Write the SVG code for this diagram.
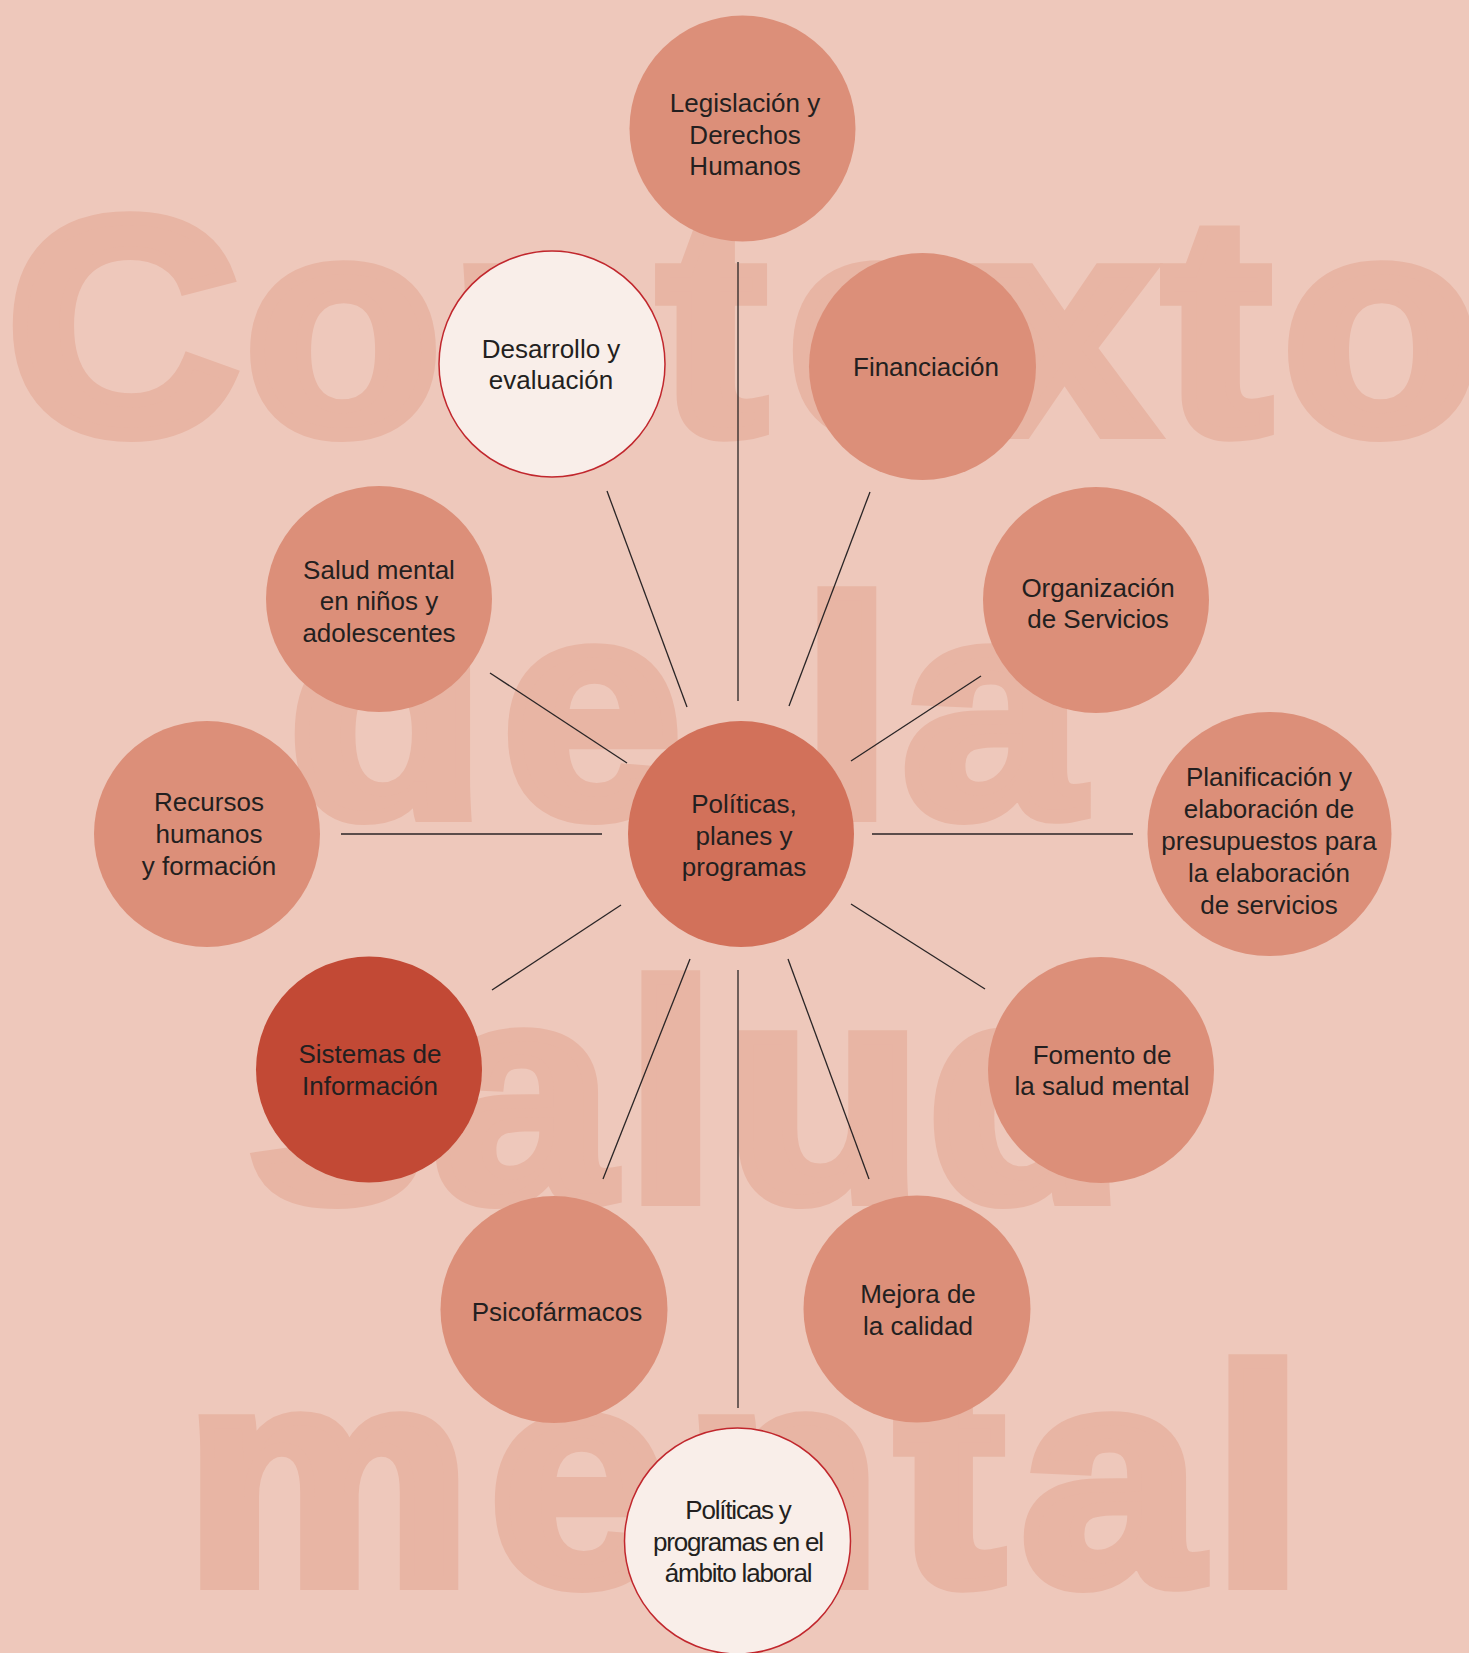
<svg xmlns="http://www.w3.org/2000/svg" width="1469" height="1653" viewBox="0 0 1469 1653">
<style>
.bgw{font-family:"Liberation Sans",Arial,sans-serif;font-weight:700;font-size:306px;fill:#E8B5A4;stroke:#E8B5A4;stroke-width:14;stroke-linejoin:miter;text-anchor:middle}
.n{fill:#DC8F79}
.c{fill:#D2715A}
.s{fill:#C24935}
.w{fill:#F9EEE9;stroke:#C1272D;stroke-width:1.5}
.t{font-family:"Liberation Sans",Arial,sans-serif;font-size:26px;fill:#231F20;text-anchor:middle}
.lab{letter-spacing:-1.2px}
#connectors line{stroke:#2A2526;stroke-width:1.3}
</style>
<rect width="1469" height="1653" fill="#EEC8BB"/>
<g id="background-words" transform="scale(1.05,1)">
<text class="bgw" x="117.1 326.7 521.9 678.1 835.2 1014.3 1159 1315.2" y="432">Contexto</text>
<text class="bgw" x="368.6 563.8 806.7 944.8" y="815">dela</text>
<text class="bgw" x="321 498.1 639 784.8 977.1" y="1199">salud</text>
<text class="bgw" x="312.4 551.4 745.7 904.8 1058.1 1198.1" y="1583">mental</text>
</g>
<g id="connectors">
<line x1="738" y1="262" x2="738" y2="701"/>
<line x1="607" y1="491" x2="687" y2="707"/>
<line x1="870" y1="492" x2="789" y2="706"/>
<line x1="490" y1="673" x2="627" y2="763"/>
<line x1="981" y1="676" x2="851" y2="761"/>
<line x1="341" y1="834" x2="602" y2="834"/>
<line x1="872" y1="834" x2="1133" y2="834"/>
<line x1="621" y1="905" x2="492" y2="990"/>
<line x1="851" y1="904" x2="985" y2="989"/>
<line x1="690" y1="959" x2="603" y2="1179"/>
<line x1="788" y1="959" x2="869" y2="1179"/>
<line x1="738" y1="970" x2="738" y2="1408"/>
</g>
<g id="node-legislacion">
<circle class="n" cx="742.5" cy="128.5" r="113"/>
<text class="t"><tspan x="745" y="112">Legislación y</tspan><tspan x="745" y="143.5">Derechos</tspan><tspan x="745" y="175">Humanos</tspan></text>
</g>
<g id="node-desarrollo">
<circle class="w" cx="552" cy="364" r="113"/>
<text class="t"><tspan x="551" y="357.5">Desarrollo y</tspan><tspan x="551" y="389">evaluación</tspan></text>
</g>
<g id="node-financiacion">
<circle class="n" cx="922.5" cy="366.5" r="113.5"/>
<text class="t" x="926" y="376">Financiación</text>
</g>
<g id="node-salud-ninos">
<circle class="n" cx="379" cy="599" r="113"/>
<text class="t"><tspan x="379" y="578.5">Salud mental</tspan><tspan x="379" y="610">en niños y</tspan><tspan x="379" y="641.5">adolescentes</tspan></text>
</g>
<g id="node-organizacion">
<circle class="n" cx="1096" cy="600" r="113"/>
<text class="t"><tspan x="1098" y="597">Organización</tspan><tspan x="1098" y="628">de Servicios</tspan></text>
</g>
<g id="node-recursos">
<circle class="n" cx="207" cy="834" r="113"/>
<text class="t"><tspan x="209" y="811">Recursos</tspan><tspan x="209" y="843">humanos</tspan><tspan x="209" y="875">y formación</tspan></text>
</g>
<g id="node-centro">
<circle class="c" cx="741" cy="834" r="113"/>
<text class="t"><tspan x="744" y="813">Políticas,</tspan><tspan x="744" y="844.5">planes y</tspan><tspan x="744" y="876">programas</tspan></text>
</g>
<g id="node-planificacion">
<circle class="n" cx="1269.5" cy="834" r="122"/>
<text class="t"><tspan x="1269" y="786">Planificación y</tspan><tspan x="1269" y="818">elaboración de</tspan><tspan x="1269" y="850">presupuestos para</tspan><tspan x="1269" y="882">la elaboración</tspan><tspan x="1269" y="914">de servicios</tspan></text>
</g>
<g id="node-sistemas">
<circle class="s" cx="369" cy="1069.5" r="113"/>
<text class="t"><tspan x="370" y="1063">Sistemas de</tspan><tspan x="370" y="1095">Información</tspan></text>
</g>
<g id="node-fomento">
<circle class="n" cx="1101" cy="1070" r="113"/>
<text class="t"><tspan x="1102" y="1064">Fomento de</tspan><tspan x="1102" y="1095">la salud mental</tspan></text>
</g>
<g id="node-psicofarmacos">
<circle class="n" cx="554" cy="1309.5" r="113.5"/>
<text class="t" x="557" y="1320.5">Psicofármacos</text>
</g>
<g id="node-mejora">
<circle class="n" cx="917" cy="1309" r="113.5"/>
<text class="t"><tspan x="918" y="1303">Mejora de</tspan><tspan x="918" y="1334.5">la calidad</tspan></text>
</g>
<g id="node-laboral">
<circle class="w" cx="737.5" cy="1541" r="113"/>
<text class="t lab"><tspan x="738" y="1518.5">Políticas y</tspan><tspan x="738" y="1550.5">programas en el</tspan><tspan x="738" y="1582">ámbito laboral</tspan></text>
</g>
</svg>
